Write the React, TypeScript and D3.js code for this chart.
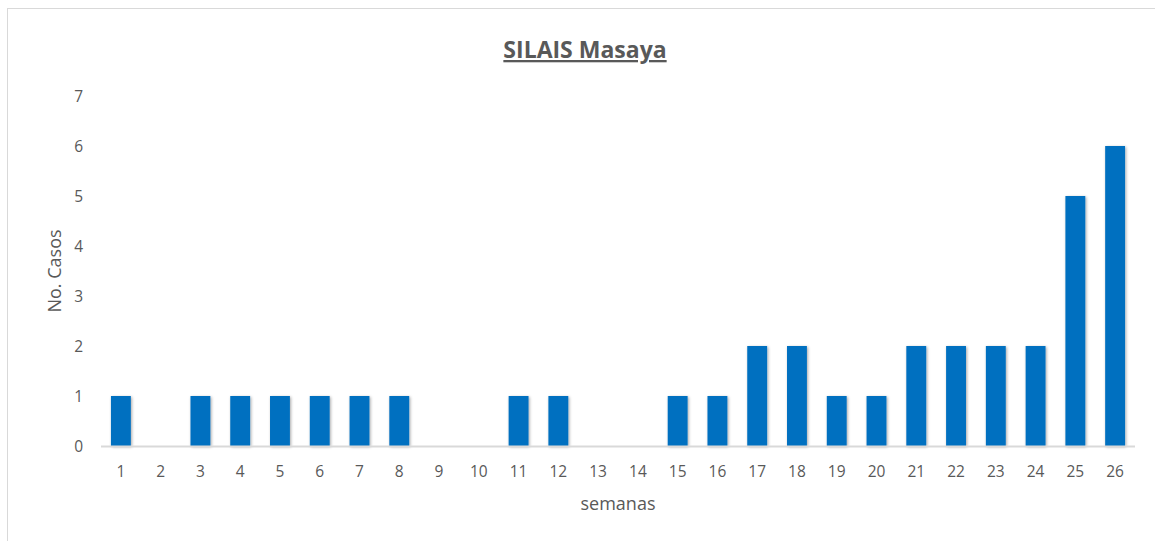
import { useEffect, useRef } from "react";
import * as d3 from "d3";

const weeks = [
  "1", "2", "3", "4", "5", "6", "7", "8", "9", "10", "11", "12", "13",
  "14", "15", "16", "17", "18", "19", "20", "21", "22", "23", "24", "25", "26",
];
const cases = [1, 0, 1, 1, 1, 1, 1, 1, 0, 0, 1, 1, 0, 0, 1, 1, 2, 2, 1, 1, 2, 2, 2, 2, 5, 6];
const yTicks = [0, 1, 2, 3, 4, 5, 6, 7];

const title = "SILAIS Masaya";
const xTitle = "semanas";
const yTitle = "No. Casos";

const App = () => {
  const ref = useRef(null);

  const width = 1155;
  const height = 541;
  const margin = { top: 96, right: 20, bottom: 95, left: 101 };
  const font = "'Open Sans', Lato, sans-serif";
  const textColor = "#595959";

  useEffect(() => {
    const svg = d3.select(ref.current);
    svg.selectAll("*").remove();

    const x = d3
      .scaleBand()
      .domain(weeks)
      .range([margin.left, width - margin.right])
      .paddingInner(0.5)
      .paddingOuter(0.25);

    const y = d3
      .scaleLinear()
      .domain([0, 7])
      .range([height - margin.bottom, margin.top]);

    // soft shadow like the office chart
    const defs = svg.append("defs");
    const f = defs
      .append("filter")
      .attr("id", "shadow")
      .attr("x", "-50%")
      .attr("y", "-10%")
      .attr("width", "200%")
      .attr("height", "130%");
    f.append("feDropShadow")
      .attr("dx", 1)
      .attr("dy", 1)
      .attr("stdDeviation", 1.5)
      .attr("flood-color", "#000")
      .attr("flood-opacity", 0.35);

    // chart border
    svg
      .append("rect")
      .attr("x", 7.5)
      .attr("y", 8.5)
      .attr("width", width + 10)
      .attr("height", height + 10)
      .attr("fill", "#fff")
      .attr("stroke", "#d9d9d9")
      .attr("stroke-width", 1);

    // title
    svg
      .append("text")
      .attr("x", 585)
      .attr("y", 58)
      .attr("text-anchor", "middle")
      .attr("font-family", font)
      .attr("font-size", 23)
      .attr("font-weight", "bold")
      .attr("fill", textColor)
      .attr("text-decoration", "underline")
      .text(title);

    svg
      .append("g")
      .selectAll("rect")
      .data(weeks.map((w, i) => ({ w, v: cases[i] })).filter((d) => d.v > 0))
      .enter()
      .append("rect")
      .attr("x", (d) => x(d.w))
      .attr("y", (d) => y(d.v))
      .attr("width", x.bandwidth())
      .attr("height", (d) => y(0) - y(d.v))
      .attr("fill", "#0070c0")
      .attr("filter", "url(#shadow)");

    // x axis line
    svg
      .append("line")
      .attr("x1", margin.left)
      .attr("x2", width - margin.right)
      .attr("y1", y(0) + 0.5)
      .attr("y2", y(0) + 0.5)
      .attr("stroke", "#d9d9d9")
      .attr("stroke-width", 2);

    // x tick labels
    svg
      .append("g")
      .selectAll("text")
      .data(weeks)
      .enter()
      .append("text")
      .attr("x", (d) => x(d) + x.bandwidth() / 2)
      .attr("y", y(0) + 31)
      .attr("text-anchor", "middle")
      .attr("font-family", font)
      .attr("font-size", 15.5)
      .attr("fill", textColor)
      .text((d) => d);

    // y tick labels
    svg
      .append("g")
      .selectAll("text")
      .data(yTicks)
      .enter()
      .append("text")
      .attr("x", 83)
      .attr("y", (d) => y(d) + 5.5)
      .attr("text-anchor", "end")
      .attr("font-family", font)
      .attr("font-size", 15.5)
      .attr("fill", textColor)
      .text((d) => d);

    // axis titles
    svg
      .append("text")
      .attr("x", 618)
      .attr("y", 510)
      .attr("text-anchor", "middle")
      .attr("font-family", font)
      .attr("font-size", 18)
      .attr("fill", textColor)
      .text(xTitle);

    svg
      .append("text")
      .attr("transform", `translate(61, ${271}) rotate(-90)`)
      .attr("text-anchor", "middle")
      .attr("font-family", font)
      .attr("font-size", 18)
      .attr("fill", textColor)
      .text(yTitle);
  }, []);

  return (
    <svg
      ref={ref}
      width={width}
      height={height}
      style={{ position: "absolute", left: 0, top: 0, background: "#fff" }}
    ></svg>
  );
};

export default App;
